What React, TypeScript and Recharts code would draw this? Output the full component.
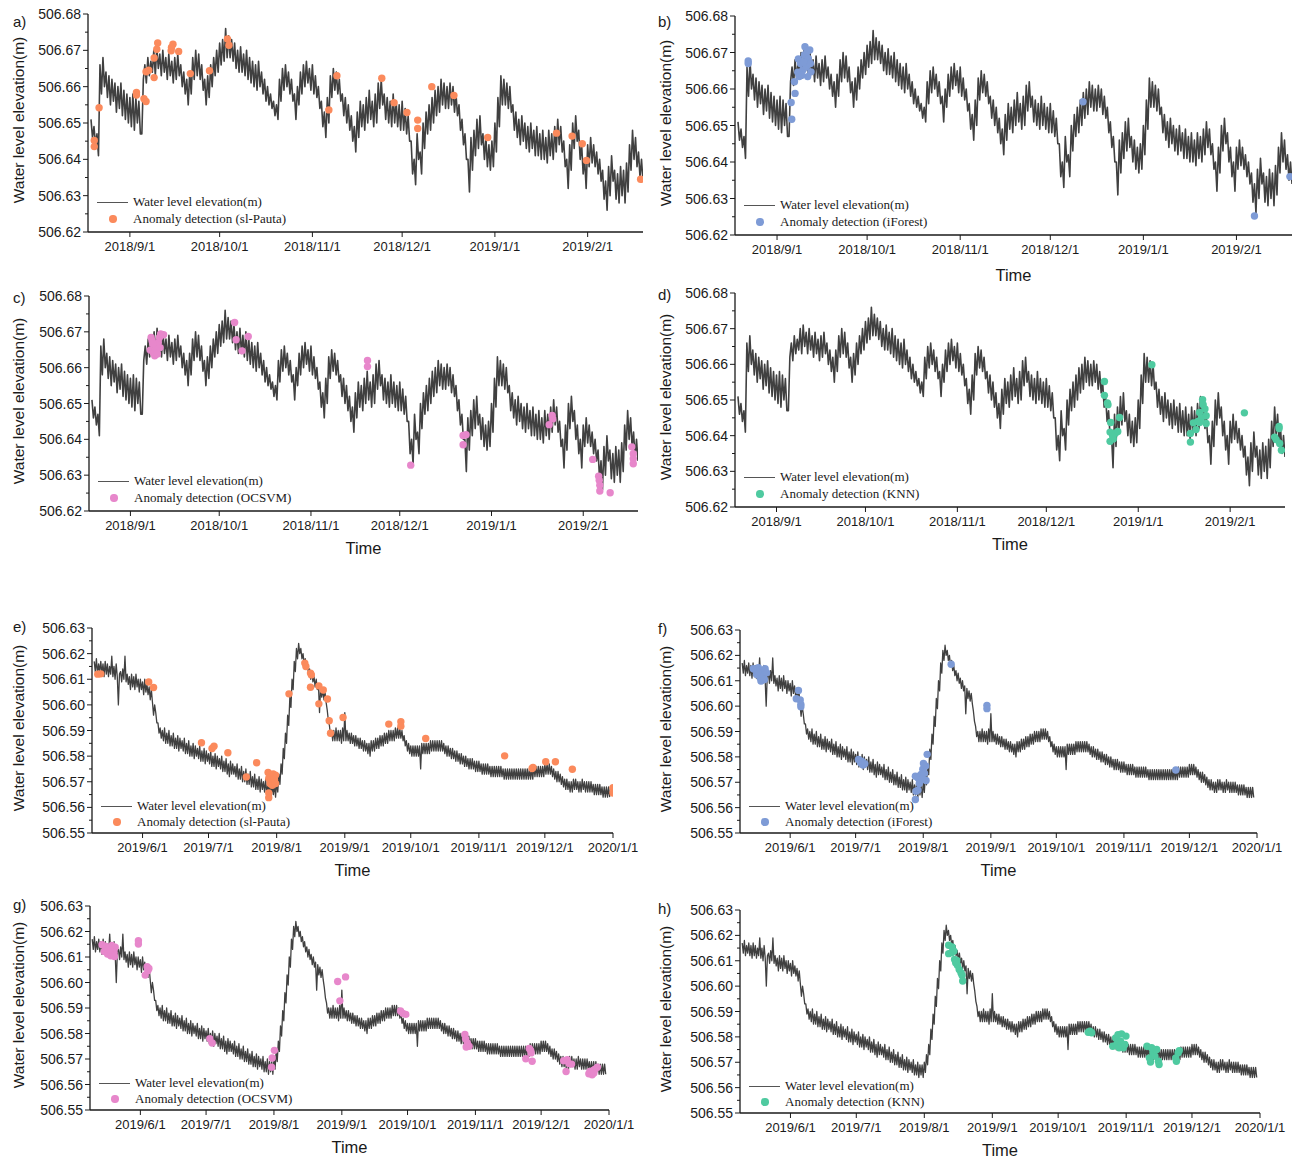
import React from 'react';
import { ComposedChart, Line, Scatter, XAxis, YAxis } from 'recharts';

// water level, 2018/8/19 .. 2019/2/19, two readings a day (day 0 = 2018/9/1)
const level2018 = [
  506.651, 506.646, 506.649, 506.644, 506.647, 506.641, 506.666, 506.658, 506.668, 506.660,
  506.664, 506.657, 506.663, 506.655, 506.662, 506.656, 506.661, 506.653, 506.660, 506.654,
  506.661, 506.652, 506.659, 506.651, 506.658, 506.650, 506.657, 506.649, 506.658, 506.648,
  506.657, 506.650, 506.656, 506.647, 506.647, 506.662, 506.666, 506.661, 506.668, 506.663,
  506.667, 506.664, 506.670, 506.663, 506.671, 506.665, 506.669, 506.663, 506.670, 506.664,
  506.668, 506.662, 506.669, 506.663, 506.667, 506.661, 506.668, 506.662, 506.669, 506.663,
  506.666, 506.660, 506.664, 506.658, 506.662, 506.655, 506.664, 506.658, 506.668, 506.662,
  506.670, 506.663, 506.669, 506.662, 506.666, 506.659, 506.662, 506.655, 506.663, 506.657,
  506.666, 506.660, 506.668, 506.663, 506.670, 506.664, 506.672, 506.666, 506.673, 506.667,
  506.676, 506.668, 506.674, 506.668, 506.673, 506.667, 506.672, 506.665, 506.670, 506.664,
  506.671, 506.664, 506.669, 506.663, 506.670, 506.662, 506.668, 506.661, 506.667, 506.660,
  506.666, 506.659, 506.667, 506.660, 506.664, 506.658, 506.662, 506.656, 506.660, 506.655,
  506.658, 506.654, 506.656, 506.652, 506.655, 506.651, 506.662, 506.656, 506.665, 506.659,
  506.666, 506.660, 506.664, 506.658, 506.662, 506.656, 506.658, 506.651, 506.660, 506.655,
  506.664, 506.658, 506.666, 506.660, 506.667, 506.661, 506.665, 506.659, 506.666, 506.658,
  506.663, 506.657, 506.660, 506.654, 506.656, 506.649, 506.653, 506.646, 506.657, 506.650,
  506.663, 506.657, 506.665, 506.659, 506.664, 506.658, 506.662, 506.656, 506.658, 506.652,
  506.657, 506.650, 506.655, 506.648, 506.652, 506.645, 506.649, 506.642, 506.653, 506.646,
  506.656, 506.649, 506.655, 506.648, 506.657, 506.650, 506.659, 506.651, 506.656, 506.649,
  506.658, 506.650, 506.661, 506.654, 506.662, 506.655, 506.658, 506.651, 506.657, 506.650,
  506.656, 506.649, 506.658, 506.650, 506.656, 506.649, 506.655, 506.648, 506.656, 506.648,
  506.654, 506.647, 506.652, 506.645, 506.645, 506.636, 506.640, 506.633, 506.647, 506.640,
  506.642, 506.636, 506.650, 506.643, 506.653, 506.647, 506.655, 506.648, 506.657, 506.650,
  506.659, 506.652, 506.660, 506.653, 506.662, 506.655, 506.661, 506.654, 506.660, 506.654,
  506.661, 506.655, 506.660, 506.653, 506.658, 506.652, 506.655, 506.648, 506.651, 506.644,
  506.647, 506.640, 506.640, 506.631, 506.646, 506.637, 506.648, 506.641, 506.651, 506.643,
  506.652, 506.644, 506.647, 506.640, 506.646, 506.638, 506.644, 506.637, 506.645, 506.638,
  506.650, 506.642, 506.657, 506.649, 506.663, 506.655, 506.662, 506.655, 506.661, 506.654,
  506.660, 506.653, 506.655, 506.648, 506.653, 506.646, 506.651, 506.644, 506.652, 506.645,
  506.650, 506.643, 506.649, 506.642, 506.650, 506.643, 506.648, 506.641, 506.649, 506.641,
  506.647, 506.640, 506.648, 506.640, 506.646, 506.639, 506.648, 506.641, 506.647, 506.640,
  506.649, 506.642, 506.651, 506.644, 506.649, 506.642, 506.645, 506.638, 506.640, 506.632,
  506.644, 506.637, 506.650, 506.643, 506.652, 506.645, 506.648, 506.640, 506.644, 506.636,
  506.640, 506.632, 506.644, 506.638, 506.646, 506.639, 506.644, 506.638, 506.642, 506.636,
  506.640, 506.634, 506.637, 506.629, 506.634, 506.626, 506.638, 506.630, 506.641, 506.634,
  506.637, 506.629, 506.636, 506.628, 506.638, 506.630, 506.637, 506.628, 506.639, 506.631,
  506.644, 506.637, 506.648, 506.640, 506.646, 506.638, 506.642, 506.635, 506.640, 506.634,
];

// water level, 2019/5/10 .. 2020/1/1, two readings a day (day 0 = 2019/6/1)
const level2019 = [
  506.617, 506.613, 506.618, 506.612, 506.616, 506.613, 506.617, 506.612, 506.616, 506.611,
  506.617, 506.612, 506.616, 506.611, 506.615, 506.612, 506.619, 506.611, 506.615, 506.610,
  506.616, 506.611, 506.600, 506.612, 506.613, 506.609, 506.614, 506.610, 506.619, 506.609,
  506.612, 506.608, 506.611, 506.606, 506.612, 506.607, 506.611, 506.606, 506.612, 506.607,
  506.610, 506.605, 506.610, 506.606, 506.609, 506.604, 506.610, 506.605, 506.608, 506.604,
  506.607, 506.602, 506.606, 506.601, 506.596, 506.600, 506.597, 506.593, 506.593, 506.589,
  506.591, 506.587, 506.590, 506.586, 506.591, 506.585, 506.589, 506.585, 506.590, 506.584,
  506.588, 506.584, 506.589, 506.583, 506.587, 506.583, 506.588, 506.582, 506.587, 506.583,
  506.586, 506.582, 506.587, 506.581, 506.585, 506.581, 506.586, 506.580, 506.584, 506.580,
  506.585, 506.579, 506.584, 506.580, 506.583, 506.579, 506.584, 506.578, 506.582, 506.578,
  506.583, 506.577, 506.582, 506.578, 506.581, 506.577, 506.582, 506.576, 506.580, 506.576,
  506.581, 506.575, 506.580, 506.576, 506.579, 506.575, 506.580, 506.574, 506.578, 506.574,
  506.579, 506.573, 506.577, 506.572, 506.578, 506.573, 506.577, 506.573, 506.576, 506.572,
  506.577, 506.571, 506.575, 506.571, 506.576, 506.570, 506.574, 506.570, 506.575, 506.569,
  506.573, 506.569, 506.574, 506.568, 506.572, 506.568, 506.573, 506.567, 506.571, 506.567,
  506.572, 506.566, 506.571, 506.567, 506.570, 506.566, 506.571, 506.565, 506.569, 506.565,
  506.570, 506.564, 506.569, 506.565, 506.569, 506.564, 506.570, 506.566, 506.573, 506.569,
  506.577, 506.573, 506.583, 506.579, 506.589, 506.585, 506.596, 506.592, 506.603, 506.599,
  506.610, 506.606, 506.617, 506.613, 506.622, 506.618, 506.624, 506.620, 506.622, 506.618,
  506.620, 506.616, 506.618, 506.614, 506.616, 506.612, 506.614, 506.610, 506.613, 506.609,
  506.611, 506.607, 506.610, 506.606, 506.608, 506.597, 506.607, 506.603, 506.606, 506.602,
  506.605, 506.601, 506.598, 506.594, 506.592, 506.588, 506.590, 506.586, 506.590, 506.586,
  506.591, 506.586, 506.590, 506.586, 506.590, 506.585, 506.591, 506.586, 506.597, 506.586,
  506.590, 506.586, 506.589, 506.585, 506.589, 506.585, 506.588, 506.584, 506.588, 506.584,
  506.587, 506.583, 506.587, 506.583, 506.586, 506.582, 506.586, 506.582, 506.585, 506.581,
  506.585, 506.580, 506.586, 506.582, 506.586, 506.582, 506.587, 506.583, 506.587, 506.583,
  506.588, 506.584, 506.588, 506.584, 506.589, 506.585, 506.589, 506.585, 506.590, 506.586,
  506.590, 506.586, 506.590, 506.586, 506.591, 506.587, 506.591, 506.587, 506.591, 506.587,
  506.590, 506.586, 506.588, 506.584, 506.586, 506.582, 506.585, 506.581, 506.584, 506.580,
  506.584, 506.580, 506.584, 506.580, 506.584, 506.580, 506.584, 506.575, 506.585, 506.581,
  506.585, 506.581, 506.585, 506.581, 506.585, 506.581, 506.586, 506.582, 506.586, 506.582,
  506.586, 506.582, 506.586, 506.582, 506.586, 506.582, 506.586, 506.582, 506.585, 506.581,
  506.584, 506.580, 506.584, 506.580, 506.583, 506.579, 506.583, 506.579, 506.582, 506.578,
  506.582, 506.578, 506.581, 506.577, 506.581, 506.577, 506.580, 506.576, 506.580, 506.576,
  506.579, 506.575, 506.579, 506.575, 506.579, 506.575, 506.578, 506.574, 506.578, 506.574,
  506.578, 506.574, 506.577, 506.573, 506.577, 506.573, 506.577, 506.573, 506.577, 506.573,
  506.576, 506.572, 506.576, 506.572, 506.576, 506.572, 506.576, 506.572, 506.576, 506.572,
  506.576, 506.572, 506.575, 506.571, 506.575, 506.571, 506.575, 506.571, 506.575, 506.571,
  506.575, 506.571, 506.575, 506.571, 506.575, 506.571, 506.575, 506.571, 506.575, 506.571,
  506.575, 506.571, 506.575, 506.571, 506.575, 506.571, 506.575, 506.571, 506.575, 506.571,
  506.576, 506.572, 506.576, 506.572, 506.576, 506.572, 506.576, 506.572, 506.576, 506.572,
  506.577, 506.573, 506.577, 506.573, 506.577, 506.573, 506.576, 506.572, 506.575, 506.571,
  506.574, 506.570, 506.574, 506.570, 506.573, 506.569, 506.572, 506.568, 506.571, 506.567,
  506.571, 506.567, 506.570, 506.566, 506.570, 506.566, 506.571, 506.567, 506.571, 506.567,
  506.570, 506.566, 506.570, 506.566, 506.571, 506.567, 506.570, 506.566, 506.570, 506.566,
  506.570, 506.566, 506.570, 506.566, 506.569, 506.565, 506.569, 506.565, 506.569, 506.565,
  506.569, 506.565, 506.568, 506.564, 506.568, 506.564, 506.568, 506.564, 506.568, 506.564,
];

// anomaly points [day, elevation]
const pautaA = [
  [-11.9, 506.6452], [-11.9, 506.6435], [-10.3, 506.6542], [2.2, 506.6584], [2.2, 506.6577],
  [4.7, 506.6567], [5.4, 506.6559], [5.4, 506.6641], [6.3, 506.6645], [8.1, 506.6625],
  [8.1, 506.6679], [9, 506.6703], [9.3, 506.672], [13.8, 506.6699], [14.4, 506.6717],
  [13.9, 506.6708], [16.3, 506.6697], [20.2, 506.6636], [26.6, 506.6644], [32.6, 506.6731],
  [33.1, 506.6714], [66.5, 506.6536], [69.2, 506.663], [84.2, 506.6623], [88.3, 506.6556],
  [92.6, 506.6529], [96.2, 506.6508], [96.2, 506.6485], [100.9, 506.66], [108.3, 506.6576],
  [119.6, 506.646], [142.6, 506.6472], [147.8, 506.6464], [151.2, 506.6443], [152.6, 506.6397],
  [170.7, 506.6345],
];
const iforestB = [
  [-9.6, 506.6677], [-9.6, 506.667], [4.7, 506.6563], [4.9, 506.6517], [5.8, 506.662],
  [6, 506.6588], [6.9, 506.6646], [7.1, 506.6682], [7.8, 506.667], [7.4, 506.6634],
  [8.6, 506.6652], [9.1, 506.6693], [9.3, 506.6716], [9.8, 506.6661], [10.2, 506.6634],
  [10.4, 506.6684], [10.9, 506.6707], [11.1, 506.667], [11.3, 506.6647], [10, 506.6702],
  [8.2, 506.6638], [8.9, 506.6675], [101.9, 506.6565], [159, 506.6252], [170.8, 506.636],
];
const ocsvmC = [
  [7, 506.6684], [7.3, 506.6675], [6.7, 506.6649], [7.8, 506.664], [8.2, 506.6633],
  [8.8, 506.6661], [9.4, 506.667], [8.5, 506.6652], [9.8, 506.6684], [10.2, 506.6694],
  [11.2, 506.6692], [9.1, 506.6638], [7.6, 506.6666], [10, 506.6656], [35.2, 506.6726],
  [35.7, 506.6678], [37.7, 506.6647], [39.8, 506.6687], [80.1, 506.662], [80.1, 506.6603],
  [94.7, 506.6328], [112.4, 506.6411], [113.4, 506.6413], [112.4, 506.6385], [141.5, 506.6441],
  [142.5, 506.6467], [142.7, 506.6457], [156.2, 506.6344], [158.2, 506.6297], [158.4, 506.6286],
  [158.6, 506.6272], [158.6, 506.6256], [162.1, 506.6251], [169.4, 506.6379], [169.9, 506.636],
  [169.9, 506.6346], [169.9, 506.6332],
];
const knnD = [
  [110.6, 506.6552], [110.6, 506.6513], [111.6, 506.6492], [111.8, 506.6487], [112.7, 506.6437],
  [112.5, 506.641], [112.5, 506.6384], [113.6, 506.6391], [114.3, 506.6407], [115.1, 506.6412],
  [115.7, 506.6451], [113.4, 506.6398], [126.6, 506.6599], [139.6, 506.6406], [139.6, 506.6382],
  [140.6, 506.6436], [141.5, 506.6417], [142.1, 506.644], [142.7, 506.6465], [143.3, 506.645],
  [143.7, 506.6501], [143.9, 506.6487], [144.5, 506.6475], [144.9, 506.6456], [144.9, 506.6434],
  [142.7, 506.6437], [157.8, 506.6464], [168, 506.6396], [168.5, 506.6389], [169.5, 506.6426],
  [169.5, 506.642], [169.7, 506.6378], [170.3, 506.6359],
];
const pautaE = [
  [-20.4, 506.612], [-19, 506.6121], [2.8, 506.6089], [5, 506.6068], [26.8, 506.5852],
  [31.6, 506.583], [32.5, 506.5839], [38.8, 506.5813], [47.2, 506.5719], [51.9, 506.5774],
  [57.1, 506.5736], [59.4, 506.573], [60.5, 506.5726], [57.4, 506.5713], [58.5, 506.5706],
  [59.7, 506.57], [58, 506.5693], [59, 506.5686], [60.5, 506.5693], [57.4, 506.5656],
  [57.4, 506.5638], [60, 506.5709], [66.6, 506.6043], [73.8, 506.6163], [74.3, 506.615],
  [76.4, 506.6124], [76.8, 506.6117], [76.4, 506.6069], [80.2, 506.6074], [80.2, 506.6004],
  [82.2, 506.6058], [84.1, 506.6023], [84.9, 506.5938], [85.5, 506.5889], [91.2, 506.5951],
  [112, 506.5925], [117.5, 506.5934], [117.5, 506.5917], [128.8, 506.5869], [164.7, 506.5801],
  [177.2, 506.5752], [177.6, 506.5756], [183.4, 506.5778], [187.8, 506.5778], [195.5, 506.5749],
  [214, 506.5677], [214, 506.5656],
];
const iforestF = [
  [-16.2, 506.6145], [-14.6, 506.6151], [-13.1, 506.6138], [-11.5, 506.6147], [-15.4, 506.6125],
  [-13.8, 506.6112], [-12.3, 506.6119], [-10.8, 506.6132], [-13.4, 506.6099], [-14.9, 506.6134],
  [-11.8, 506.6105], [-16.9, 506.6147], [3.8, 506.6062], [2.8, 506.6029], [4.6, 506.6024],
  [4.9, 506.6007], [4.9, 506.5998], [31.3, 506.579], [32.3, 506.5777], [33.4, 506.5768],
  [32.8, 506.5783], [34.2, 506.5773], [57.4, 506.5632], [57.7, 506.5665], [58.6, 506.5669],
  [59.2, 506.5724], [60, 506.5731], [60.8, 506.5751], [61.6, 506.5735], [62.1, 506.5764],
  [62.3, 506.5707], [62.8, 506.581], [58.5, 506.5718], [60.5, 506.5714], [61.1, 506.5774],
  [57.4, 506.5724], [59.2, 506.5695], [73.8, 506.6165], [90.2, 506.6003], [90.2, 506.599],
  [176.8, 506.5748],
];
const ocsvmG = [
  [-17.5, 506.6148], [-16, 506.6142], [-14.5, 506.6135], [-13, 506.6145], [-11.5, 506.6138],
  [-16.5, 506.6122], [-15, 506.6112], [-13.5, 506.6105], [-12, 506.6118], [-14, 506.6128],
  [-11.8, 506.6102], [-0.9, 506.6164], [-0.9, 506.6151], [3.1, 506.6062], [3.4, 506.6046],
  [2.2, 506.6029], [3.9, 506.6055], [31.7, 506.578], [32.8, 506.5763], [59.9, 506.5668],
  [60.2, 506.5704], [61.2, 506.5734], [90.1, 506.6004], [91.1, 506.5928], [93.7, 506.6022],
  [118.8, 506.5888], [119.9, 506.5879], [121.2, 506.5875], [148.2, 506.5796], [148.5, 506.5779],
  [149.3, 506.5763], [150.1, 506.575], [148.8, 506.5747], [176, 506.5701], [177.6, 506.5741],
  [178.4, 506.5724], [178.9, 506.5691], [178.2, 506.5734], [193.3, 506.5693], [194.4, 506.5651],
  [194.9, 506.5697], [195.7, 506.5682], [196.9, 506.568], [204.8, 506.5642], [205.9, 506.5647],
  [206.8, 506.5655], [207.6, 506.566], [208.7, 506.5668], [206.3, 506.5638], [205.3, 506.5651],
  [207.1, 506.5645],
];
const knnH = [
  [72.1, 506.6161], [73.7, 506.6154], [74.5, 506.6138], [72.1, 506.6128], [73.4, 506.6132],
  [74.8, 506.6105], [75.3, 506.6092], [76.1, 506.6082], [76.9, 506.6066], [77.7, 506.6053],
  [78.2, 506.6043], [78.5, 506.602], [75.8, 506.6101], [135.7, 506.5818], [137.3, 506.5816],
  [136.5, 506.5822], [146.9, 506.5763], [148.2, 506.5796], [149.3, 506.5809], [150.4, 506.5783],
  [151.7, 506.5757], [152.9, 506.5803], [150.9, 506.5812], [148.8, 506.5772], [149.8, 506.5757],
  [152.4, 506.577], [162.5, 506.5763], [163.6, 506.5717], [164.1, 506.5701], [165.2, 506.5737],
  [166.1, 506.5724], [166.9, 506.575], [167.7, 506.5704], [168, 506.5691], [164.6, 506.5757],
  [175.6, 506.5717], [176.7, 506.5737], [177.2, 506.5746], [175.9, 506.5704],
];

// axes
const ticks2018 = [0, 30, 61, 91, 122, 153];
const labels2018 = ['2018/9/1', '2018/10/1', '2018/11/1', '2018/12/1', '2019/1/1', '2019/2/1'];
const ticks2019 = [0, 30, 61, 92, 122, 153, 183, 214];
const labels2019 = ['2019/6/1', '2019/7/1', '2019/8/1', '2019/9/1', '2019/10/1', '2019/11/1', '2019/12/1', '2020/1/1'];
const yTicks2018 = [506.62, 506.625, 506.63, 506.635, 506.64, 506.645, 506.65, 506.655, 506.66, 506.665, 506.67, 506.675, 506.68];
const yTicks2019 = [506.55, 506.555, 506.56, 506.565, 506.57, 506.575, 506.58, 506.585, 506.59, 506.595, 506.6, 506.605, 506.61, 506.615, 506.62, 506.625, 506.63];

const line2018 = level2018.map((v, i) => ({ x: -13 + i * 0.5, y: v }));
const line2019 = level2019.map((v, i) => ({ x: -22 + i * 0.5, y: v }));
const toPts = (arr: number[][]) => arr.map(([x, y]) => ({ x, y }));

const ORANGE = '#fb8a5c';
const BLUE = '#7e9bd6';
const PINK = '#e787cb';
const TEAL = '#4fcaa0';
const SANS = "'Liberation Sans', Arial, sans-serif";
const SERIF = "'Liberation Serif', 'Times New Roman', serif";
const INK = '#1a1a1a';

const panels = [
  { tag: 'a)', x0: 0, y0: 0, L: 88, R: 643, T: 14, B: 232, tagY: 22, old: true, pts: pautaA, color: ORANGE, method: 'sl-Pauta', time: false },
  { tag: 'b)', x0: 650, y0: 0, L: 735, R: 1292, T: 16, B: 235, tagY: 22, old: true, pts: iforestB, color: BLUE, method: 'iForest', time: true },
  { tag: 'c)', x0: 0, y0: 280, L: 89, R: 638, T: 296, B: 511, tagY: 298, old: true, pts: ocsvmC, color: PINK, method: 'OCSVM', time: true },
  { tag: 'd)', x0: 650, y0: 280, L: 735, R: 1285, T: 293, B: 507, tagY: 295, old: true, pts: knnD, color: TEAL, method: 'KNN', time: true },
  { tag: 'e)', x0: 0, y0: 610, L: 92, R: 613, T: 628, B: 833, tagY: 627, old: false, pts: pautaE, color: ORANGE, method: 'sl-Pauta', time: true },
  { tag: 'f)', x0: 650, y0: 610, L: 740, R: 1257, T: 630, B: 833, tagY: 629, old: false, pts: iforestF, color: BLUE, method: 'iForest', time: true },
  { tag: 'g)', x0: 0, y0: 890, L: 90, R: 609, T: 906, B: 1110, tagY: 905, old: false, pts: ocsvmG, color: PINK, method: 'OCSVM', time: true },
  { tag: 'h)', x0: 650, y0: 890, L: 740, R: 1260, T: 910, B: 1113, tagY: 909, old: false, pts: knnH, color: TEAL, method: 'KNN', time: true },
];

const yTick = (p: any) => {
  const v = p.payload.value;
  const major = Math.abs(v * 100 - Math.round(v * 100)) < 1e-6;
  return (
    <g>
      <line x1={p.x} x2={p.x - (major ? 5 : 3)} y1={p.y} y2={p.y} stroke={INK} strokeWidth={1} />
      {major && (
        <text x={p.x - 7} y={p.y} dy="0.36em" textAnchor="end" fontSize={14} fontFamily={SANS} fill={INK}>
          {v.toFixed(2)}
        </text>
      )}
    </g>
  );
};

const xTick = (ticks: number[], labels: string[]) => (p: any) => {
  const i = ticks.indexOf(p.payload.value);
  return (
    <g>
      <line x1={p.x} x2={p.x} y1={p.y} y2={p.y + 5} stroke={INK} strokeWidth={1} />
      <text x={p.x} y={p.y + 19} textAnchor="middle" fontSize={13} fontFamily={SANS} fill={INK}>
        {labels[i]}
      </text>
    </g>
  );
};

const dot = (color: string) => (p: any) => <circle cx={p.cx} cy={p.cy} r={3.7} fill={color} />;

function Panel({ cfg }: { cfg: any }) {
  const W = Math.min(cfg.R - cfg.x0 + 40, 1298 - cfg.x0);
  const H = cfg.B - cfg.y0 + 40;
  const ticks = cfg.old ? ticks2018 : ticks2019;
  const labels = cfg.old ? labels2018 : labels2019;
  const xDomain = cfg.old ? [-14, 171.5] : [-23, 214];
  const yDomain = cfg.old ? [506.62, 506.68] : [506.55, 506.63];
  const rowGap = cfg.old ? [30, 13] : [27, 11];
  const midY = (cfg.T + cfg.B) / 2;
  return (
    <>
      <div style={{ position: 'absolute', left: cfg.x0, top: cfg.y0 }}>
        <ComposedChart width={W} height={H} margin={{ top: cfg.T - cfg.y0, right: W - (cfg.R - cfg.x0), left: 0, bottom: 0 }}>
          <XAxis
            type="number"
            dataKey="x"
            domain={xDomain}
            ticks={ticks}
            interval={0}
            allowDataOverflow
            height={H - (cfg.B - cfg.y0)}
            tickSize={0}
            tickMargin={0}
            tickLine={false}
            tick={xTick(ticks, labels)}
            axisLine={{ stroke: INK, strokeWidth: 1.3 }}
          />
          <YAxis
            type="number"
            dataKey="y"
            domain={yDomain}
            ticks={cfg.old ? yTicks2018 : yTicks2019}
            interval={0}
            allowDataOverflow
            width={cfg.L - cfg.x0}
            tickSize={0}
            tickMargin={0}
            tickLine={false}
            tick={yTick}
            axisLine={{ stroke: INK, strokeWidth: 1.3 }}
          />
          <Line
            data={cfg.old ? line2018 : line2019}
            dataKey="y"
            type="linear"
            stroke="#404040"
            strokeWidth={cfg.old ? 1.6 : 1.3}
            strokeLinejoin="round"
            dot={false}
            activeDot={false}
            isAnimationActive={false}
          />
          <Scatter data={toPts(cfg.pts)} fill={cfg.color} shape={dot(cfg.color)} isAnimationActive={false} />
        </ComposedChart>
      </div>

      {/* panel tag */}
      <div style={{ position: 'absolute', left: cfg.x0 + (cfg.x0 ? 8 : 13), top: cfg.tagY - 9, fontFamily: SANS, fontSize: 15, color: INK, lineHeight: '18px' }}>
        {cfg.tag}
      </div>

      {/* y axis title */}
      <div
        style={{
          position: 'absolute',
          left: cfg.x0 + (cfg.x0 ? 16 : 19),
          top: midY - 3,
          transform: 'translate(-50%, -50%) rotate(-90deg)',
          whiteSpace: 'nowrap',
          fontFamily: SANS,
          fontSize: 15.5,
          color: INK,
        }}
      >
        Water level elevation(m)
      </div>

      {cfg.time && (
        <div
          style={{
            position: 'absolute',
            left: (cfg.L + cfg.R) / 2,
            top: cfg.B + (cfg.tag === 'b)' ? 40 : 37),
            transform: 'translate(-50%, -50%)',
            fontFamily: SANS,
            fontSize: 16.5,
            color: INK,
          }}
        >
          Time
        </div>
      )}

      {/* legend */}
      <div style={{ position: 'absolute', left: cfg.L + 9, top: cfg.B - rowGap[0], width: 31, borderTop: '1px solid #555' }} />
      <div style={{ position: 'absolute', left: cfg.L + 45, top: cfg.B - rowGap[0] - 8, fontFamily: SERIF, fontSize: 13, color: INK, lineHeight: '16px', whiteSpace: 'nowrap' }}>
        Water level elevation(m)
      </div>
      <div style={{ position: 'absolute', left: cfg.L + 25 - 3.7, top: cfg.B - rowGap[1] - 3.7, width: 7.4, height: 7.4, borderRadius: '50%', background: cfg.color }} />
      <div style={{ position: 'absolute', left: cfg.L + 45, top: cfg.B - rowGap[1] - 8, fontFamily: SERIF, fontSize: 13, color: INK, lineHeight: '16px', whiteSpace: 'nowrap' }}>
        Anomaly detection ({cfg.method})
      </div>
    </>
  );
}

export default function App() {
  return (
    <div style={{ position: 'absolute', left: 0, top: 0, width: 1298, height: 1157, background: '#fff', overflow: 'hidden' }}>
      {panels.map((p) => (
        <Panel key={p.tag} cfg={p} />
      ))}
    </div>
  );
}
